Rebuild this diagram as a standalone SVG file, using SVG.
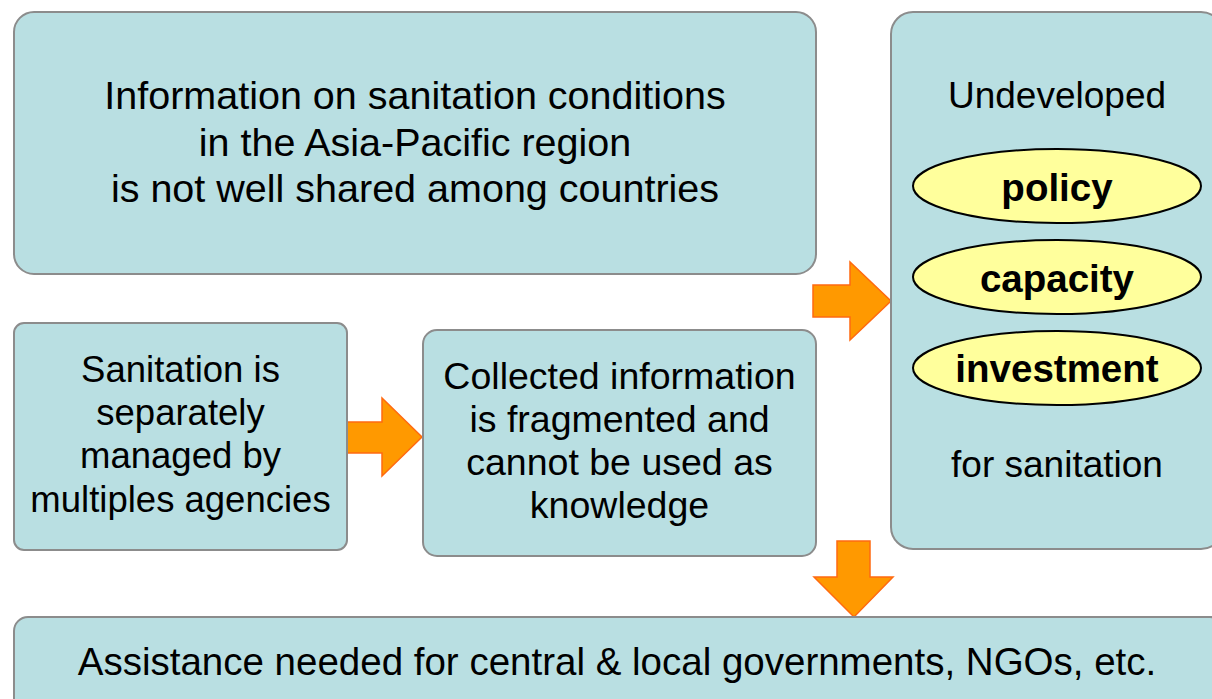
<svg xmlns="http://www.w3.org/2000/svg" width="1212" height="699" viewBox="0 0 1212 699">
<style>
.box{fill:#B9DFE2;stroke:#8C8C8C;stroke-width:2}
.ell{fill:#FFFF9C;stroke:#000;stroke-width:2}
.arr{fill:#FF9900;stroke:#FF6A10;stroke-width:1.5;stroke-linejoin:miter}
.t{font-family:"Liberation Sans",Arial,sans-serif;font-size:37px;fill:#000;text-anchor:middle}
.t1{font-size:39.5px}
.t2{font-size:36.5px}
.t3{font-size:37.5px}
.t5{font-size:38.5px}
.b{font-weight:bold;font-size:38.5px}
</style>
<rect width="1212" height="699" fill="#fff"/>
<g id="connectors">
<polygon class="arr" points="813,285 850,285 850,262 891,301 850,340 850,317 813,317"/>
<polygon class="arr" points="347,422 382,422 382,398 422,437 382,476 382,453 347,453"/>
<polygon class="arr" points="837,541 870,541 870,577 893,577 854,617 814,577 837,577"/>
</g>
<g id="node-info">
<rect class="box" x="14" y="12" width="802" height="262" rx="20"/>
<text class="t t1" x="415" y="109">Information on sanitation conditions</text>
<text class="t t1" x="415" y="156">in the Asia-Pacific region</text>
<text class="t t1" x="415" y="202">is not well shared among countries</text>
</g>
<g id="node-sanitation">
<rect class="box" x="14" y="323" width="333" height="227" rx="10"/>
<text class="t t2" x="180.5" y="382">Sanitation is</text>
<text class="t t2" x="180.5" y="425">separately</text>
<text class="t t2" x="180.5" y="468">managed by</text>
<text class="t t2" x="180.5" y="512">multiples agencies</text>
</g>
<g id="node-collected">
<rect class="box" x="423" y="330" width="393" height="226" rx="14"/>
<text class="t t3" x="619.5" y="389">Collected information</text>
<text class="t t3" x="619.5" y="432">is fragmented and</text>
<text class="t t3" x="619.5" y="475">cannot be used as</text>
<text class="t t3" x="619.5" y="518">knowledge</text>
</g>
<g id="node-undeveloped">
<rect class="box" x="891" y="12" width="332" height="537" rx="22"/>
<text class="t" x="1057" y="108">Undeveloped</text>
<text class="t" x="1057" y="477">for sanitation</text>
</g>
<g id="node-policy">
<ellipse class="ell" cx="1057" cy="186" rx="144" ry="37"/>
<text class="t b" x="1057" y="201">policy</text>
</g>
<g id="node-capacity">
<ellipse class="ell" cx="1057" cy="277" rx="144" ry="37"/>
<text class="t b" x="1057" y="292">capacity</text>
</g>
<g id="node-investment">
<ellipse class="ell" cx="1057" cy="368" rx="144" ry="37"/>
<text class="t b" x="1057" y="382">investment</text>
</g>
<g id="node-assistance">
<rect class="box" x="14" y="617" width="1210" height="120" rx="14"/>
<text class="t t5" x="617" y="675">Assistance needed for central &amp; local governments, NGOs, etc.</text>
</g>
</svg>
